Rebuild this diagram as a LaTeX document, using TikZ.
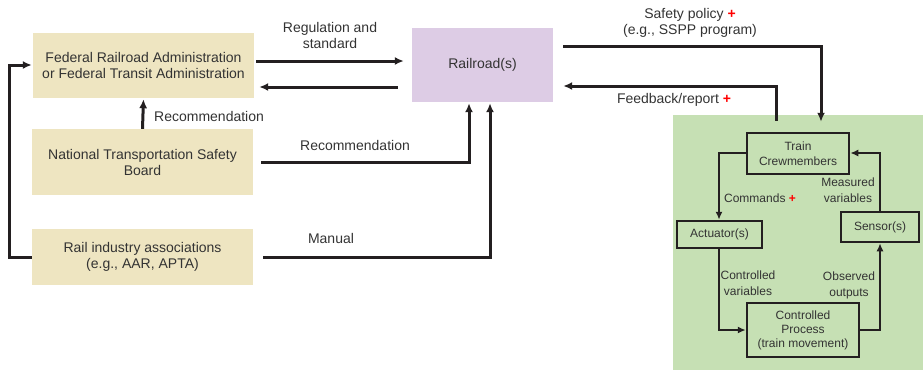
\documentclass[tikz,border=0pt]{standalone}
\usepackage{fontspec}
\setmainfont{Liberation Sans}
\usetikzlibrary{arrows.meta,calc}
\definecolor{tanbox}{HTML}{EEE5C1}
\definecolor{purbox}{HTML}{DDCCE5}
\definecolor{grnbox}{HTML}{C6E0B4}
\definecolor{txt}{HTML}{333333}
\definecolor{ln}{HTML}{231F20}
\newcommand{\plusmark}{{\color{red}\textbf{+}}}
\tikzset{
  mainbox/.style={fill=tanbox, draw=none, inner sep=0pt, align=center, text=txt, font=\fontsize{14}{16}\selectfont},
  rrbox/.style={fill=purbox, draw=none, inner sep=0pt, align=center, text=txt, font=\fontsize{14}{16}\selectfont},
  grnarea/.style={fill=grnbox, draw=none, inner sep=0pt},
  inbox/.style={draw=ln, line width=2.5pt, inner sep=0pt, align=center, text=txt, font=\fontsize{12}{15}\selectfont},
  arr/.style={draw=ln, line width=3pt, -{Latex[length=9pt,width=8pt]}},
  iarr/.style={draw=ln, line width=2.5pt, -{Latex[length=8pt,width=7pt]}},
  lbl/.style={align=center, text=txt, font=\fontsize{14}{16}\selectfont, inner sep=0pt},
  ilbl/.style={align=center, text=txt, font=\fontsize{12}{16}\selectfont, inner sep=0pt},
}
\begin{document}
\begin{tikzpicture}[x=1pt,y=-1pt]
\useasboundingbox (0,0) rectangle (923,370);
% boxes
\node[mainbox, minimum width=221pt, minimum height=65pt] (fra) at (143.5,65.5) {Federal Railroad Administration\\or Federal Transit Administration};
\node[rrbox, minimum width=141pt, minimum height=74pt] (rr) at (482.5,65) {Railroad(s)};
\node[mainbox, minimum width=221pt, minimum height=66pt] (ntsb) at (142.5,162) {National Transportation Safety\\Board};
\node[mainbox, minimum width=221pt, minimum height=56pt] (ria) at (142.5,257) {Rail industry associations\\(e.g., AAR, APTA)};
\node[grnarea, minimum width=250pt, minimum height=255pt] (ctrl) at (798,242.5) {};
\node[inbox, minimum width=102pt, minimum height=41pt] (train) at (798,153.5) {Train\\Crewmembers};
\node[inbox, minimum width=85pt, minimum height=27pt] (act) at (719.5,234.5) {Actuator(s)};
\node[inbox, minimum width=78pt, minimum height=30pt] (sens) at (880,227) {Sensor(s)};
\node[inbox, minimum width=112pt, minimum height=54pt, font=\fontsize{12}{14}\selectfont] (proc) at (803,330) {Controlled\\Process\\(train movement)};
% main connectors
\draw[arr, shorten <=2pt, shorten >=8pt] (fra.east |- 0,61) -- (rr.west |- 0,61);
\draw[arr, shorten <=14pt, shorten >=5pt] (rr.west |- 0,87) -- (fra.east |- 0,87);
\draw[arr, shorten >=1pt] (ntsb.north) -- (fra.south);
\draw[arr, shorten <=8pt, shorten >=1pt] (ntsb.east |- 0,162) -- (469,162) -- (rr.south -| 469,0);
\draw[arr, shorten <=10pt, shorten >=1pt] (ria.east |- 0,257) -- (490,257) -- (rr.south -| 490,0);
\draw[arr, shorten >=1pt] (ria.west |- 0,257) -- (9,257) -- (9,65) -- (fra.west |- 0,65);
\draw[arr, shorten <=10pt, shorten >=10pt] (rr.east |- 0,46) -- (821,46) -- (train.north -| 821,0);
\draw[arr, shorten <=11pt, shorten >=10pt] (train.north -| 776,0) -- (776,86) -- (rr.east |- 0,86);
% inner loop
\draw[iarr] (train.west |- 0,153) -- (719,153) -- (act.north -| 719,0);
\draw[iarr] (act.south -| 719,0) -- (719,330) -- (proc.west);
\draw[iarr] (proc.east) -- (880,330) -- (sens.south);
\draw[iarr] (sens.north) -- (880,153) -- (train.east |- 0,153);
% labels
\node[lbl] (lreg) at (330,35) {Regulation and\\standard};
\node[lbl, anchor=west] (lrec1) at (154,116) {Recommendation};
\node[lbl] (lrec2) at (355,145) {Recommendation};
\node[lbl] (lman) at (331,238) {Manual};
\node[lbl] (lsafe) at (690,22.5) {Safety policy \plusmark\\(e.g., SSPP program)};
\node[lbl] (lfeed) at (674,100) {Feedback/report \plusmark};
\node[ilbl] (lcmd) at (760,198) {Commands \plusmark};
\node[ilbl] (lmeas) at (848,190) {Measured\\variables};
\node[ilbl] (lcv) at (748,283) {Controlled\\variables};
\node[ilbl] (lobs) at (849,285) {Observed\\outputs};
\end{tikzpicture}
\end{document}
